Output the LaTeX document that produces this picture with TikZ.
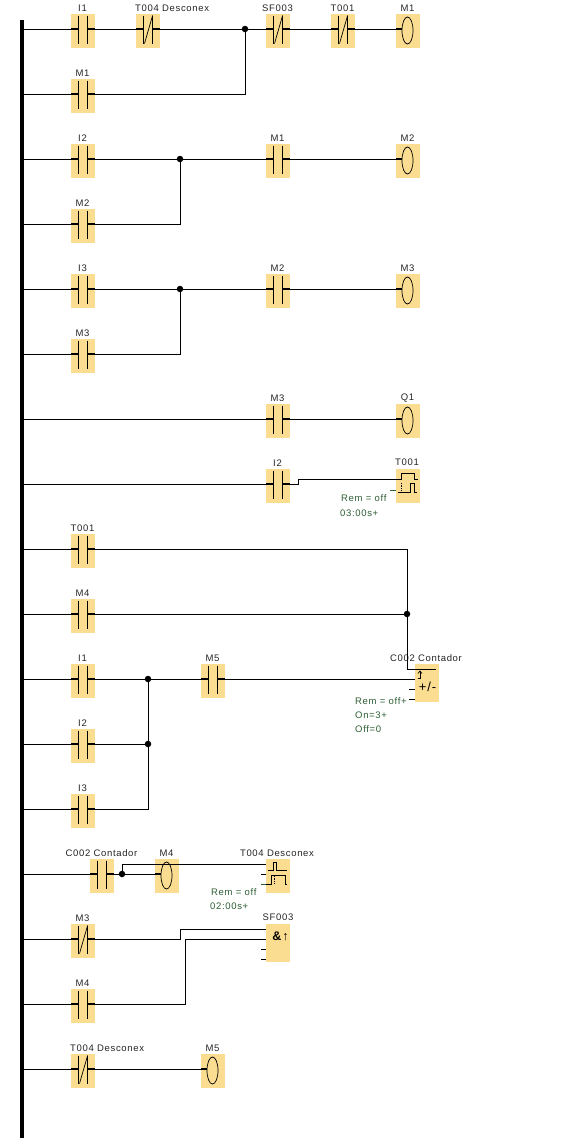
\documentclass[tikz,border=0pt]{standalone}
\usepackage{fontspec}
\setmainfont[LetterSpace=7]{Liberation Sans}
\definecolor{blockfill}{HTML}{FADD90}
\definecolor{param}{HTML}{2F5F35}
\tikzset{
  wire/.style={draw=black,line width=0.9pt},
  stub/.style={draw=black,line width=1.4pt},
  thin sym/.style={draw=black,line width=0.7pt},
  block/.style={fill=blockfill,draw=none,inner sep=0pt,minimum width=24pt,minimum height=34pt},
  tall block/.style={block,minimum height=38pt},
  tag/.style={inner sep=0pt,font=\fontsize{9.5}{11}\selectfont,text=black!85},
  param text/.style={inner sep=0pt,anchor=west,font=\fontsize{9.5}{11}\selectfont,text=param},
  dot/.style={circle,fill=black,inner sep=0pt,minimum size=6.5pt},
  nocontact/.pic={
    \draw[stub] (-12,0) -- (-4.6,0) (4.4,0) -- (12,0);
    \draw[thin sym] (-4.6,-13.5) -- (-4.6,14.5) (4.4,-13.5) -- (4.4,14.5);
  },
  nccontact/.pic={
    \draw[stub] (-12,0) -- (-4.6,0) (4.6,0) -- (12,0);
    \draw[thin sym] (-4.6,-13.5) -- (-4.6,14.5) (4.6,-13.5) -- (4.6,14.5);
    \draw[thin sym] (-3.5,14.5) -- (4.6,-13.5);
  },
  coilsym/.pic={
    \draw[stub] (-12,0) -- (-6,0);
    \draw[thin sym] (-0.5,1.5) ellipse (5.5 and 13.5);
  }
}
\newcommand\elem[5]{%
  \node[block] (#1) at (#2,#3+2) {};
  \coordinate (#1-in) at (#2-12,#3);
  \coordinate (#1-out) at (#2+12,#3);
  \pic at (#2,#3) {#4};
  \node[tag] (#1-tag) at (#2-0.5,#3-21) {#5};
}
\begin{document}
\begin{tikzpicture}[x=1pt,y=-1pt]
\useasboundingbox[fill=white] (0,0) rectangle (585,1138);
\node[fill=black,inner sep=0pt,minimum width=4pt,minimum height=1118pt] (rail) at (22,579) {};

% row 1-2
\elem{a1}{83}{29}{nocontact}{I1}
\elem{a2}{148}{29}{nccontact}{}
\node[tag,anchor=west] (a2-label) at (135,8) {T004 Desconex};
\elem{a3}{278}{29}{nccontact}{SF003}
\elem{a4}{343}{29}{nccontact}{T001}
\elem{a5}{408}{29}{coilsym}{M1}
\elem{a6}{83}{94}{nocontact}{M1}
\node[dot] (ja) at (245,29) {};
\draw[wire] (rail.east |- a1-in) -- (a1-in);
\draw[wire] (a1-out) -- (a2-in);
\draw[wire] (a2-out) -- (ja) -- (a3-in);
\draw[wire] (a3-out) -- (a4-in);
\draw[wire] (a4-out) -- (a5-in);
\draw[wire] (rail.east |- a6-in) -- (a6-in);
\draw[wire] (a6-out) -| (ja);

% row 3-4
\elem{b1}{83}{159}{nocontact}{I2}
\elem{b2}{278}{159}{nocontact}{M1}
\elem{b3}{408}{159}{coilsym}{M2}
\elem{b4}{83}{224}{nocontact}{M2}
\node[dot] (jb) at (180,159) {};
\draw[wire] (rail.east |- b1-in) -- (b1-in);
\draw[wire] (b1-out) -- (jb) -- (b2-in);
\draw[wire] (b2-out) -- (b3-in);
\draw[wire] (rail.east |- b4-in) -- (b4-in);
\draw[wire] (b4-out) -| (jb);

% row 5-6
\elem{c1}{83}{289}{nocontact}{I3}
\elem{c2}{278}{289}{nocontact}{M2}
\elem{c3}{408}{289}{coilsym}{M3}
\elem{c4}{83}{354}{nocontact}{M3}
\node[dot] (jc) at (180,289) {};
\draw[wire] (rail.east |- c1-in) -- (c1-in);
\draw[wire] (c1-out) -- (jc) -- (c2-in);
\draw[wire] (c2-out) -- (c3-in);
\draw[wire] (rail.east |- c4-in) -- (c4-in);
\draw[wire] (c4-out) -| (jc);

% row 7
\elem{d1}{278}{419}{nocontact}{M3}
\elem{d2}{408}{419}{coilsym}{Q1}
\draw[wire] (rail.east |- d1-in) -- (d1-in);
\draw[wire] (d1-out) -- (d2-in);

% row 8
\elem{e1}{278}{484}{nocontact}{I2}
\node[block] (e2) at (408,486) {};
\node[tag] (e2-label) at (407,462.5) {T001};
\coordinate (e2-in) at (396,479);
\coordinate (e-bend) at (298,484);
\draw[wire] (rail.east |- e1-in) -- (e1-in);
\draw[wire] (e1-out) -- (e-bend) -- (e-bend |- e2-in) -- (e2-in);
\draw[thin sym] (396,479) -- (401,479) -- (401,473) -- (414,473) -- (414,479) -- (418,479);
\draw[draw=param,line width=0.7pt] (390,490) -- (396,490);
\draw[thin sym] (398,492.5) -- (410,492.5) -- (410,483) -- (414,483) -- (414,492.5) -- (417,492.5);
\draw[thin sym,densely dotted] (401,483) -- (401,492.5);
\node[param text] (e-rem) at (341,498) {Rem = off};
\node[param text] (e-time) at (340,513) {03:00s+};

% row 9-13
\elem{f1}{83}{549}{nocontact}{T001}
\elem{f2}{83}{614}{nocontact}{M4}
\elem{f3}{83}{679}{nocontact}{I1}
\elem{f4}{213}{679}{nocontact}{M5}
\elem{f5}{83}{744}{nocontact}{I2}
\elem{f6}{83}{809}{nocontact}{I3}
\node[tall block] (cnt) at (427,682.5) {};
\node[tag] (cnt-label) at (426,658) {C002 Contador};
\node[dot] (jf) at (407,614) {};
\node[dot] (jg) at (148,679) {};
\node[dot] (jh) at (148,744) {};
\coordinate (cnt-top) at (436,669);
\draw[wire] (rail.east |- f1-in) -- (f1-in);
\draw[wire] (f1-out) -| (jf);
\draw[wire] (rail.east |- f2-in) -- (f2-in);
\draw[wire] (f2-out) -- (jf);
\draw[wire] (jf) |- (cnt-top);
\draw[wire] (rail.east |- f3-in) -- (f3-in);
\draw[wire] (f3-out) -- (jg) -- (f4-in);
\draw[wire] (f4-out) -- (cnt.west |- f4-out);
\draw[wire] (rail.east |- f5-in) -- (f5-in);
\draw[wire] (f5-out) -- (jh);
\draw[wire] (rail.east |- f6-in) -- (f6-in);
\draw[wire] (f6-out) -| (jh) -- (jg);
\draw[thin sym] (417.5,678) -- (420,678) -- (420,671);
\draw[thin sym] (418,673.5) -- (420,671) -- (422,673.5);
\node[inner sep=0pt,font=\fontsize{13}{14}\selectfont] (cnt-sym) at (427.5,687) {+/-};
\draw[thin sym] (409,689) -- (415,689) (409,699) -- (415,699);
\node[param text] (f-rem) at (355,701) {Rem = off+};
\node[param text] (f-on) at (355,715) {On=3+};
\node[param text] (f-off) at (355,729) {Off=0};

% row 14
\elem{g1}{102}{874}{nocontact}{C002 Contador}
\elem{g2}{167}{874}{coilsym}{M4}
\node[block] (g3) at (278,876) {};
\node[tag] (g3-label) at (277,853) {T004 Desconex};
\node[dot] (ji) at (122,874) {};
\draw[wire] (rail.east |- g1-in) -- (g1-in);
\draw[wire] (g1-out) -- (ji) -- (g2-in);
\coordinate (g3-in) at (266,864);
\draw[wire] (ji) |- (g3-in);
\draw[thin sym] (268,870.5) -- (273,870.5) -- (273,862.5) -- (276.5,862.5) -- (276.5,870.5) -- (287,870.5);
\draw[thin sym] (261,874) -- (266,874);
\draw[draw=param,line width=0.7pt] (261,884) -- (266,884);
\draw[thin sym] (266,884) -- (271,884) -- (271,875) -- (285,875) -- (285,884) -- (287,884);
\draw[thin sym,densely dotted] (274,876) -- (274,884);
\node[param text] (g-rem) at (211,892) {Rem = off};
\node[param text] (g-time) at (210,906) {02:00s+};

% row 15-16
\elem{h1}{83}{939}{nccontact}{M3}
\elem{h2}{83}{1004}{nocontact}{M4}
\node[tall block] (sf) at (278,943) {};
\node[tag] (sf-label) at (278,917.5) {SF003};
\coordinate (sf-a) at (266,929);
\coordinate (sf-b) at (266,939);
\coordinate (h1-bend) at (180.5,939);
\coordinate (h2-bend) at (185.5,1004);
\draw[wire] (rail.east |- h1-in) -- (h1-in);
\draw[wire] (h1-out) -- (h1-bend) |- (sf-a);
\draw[wire] (rail.east |- h2-in) -- (h2-in);
\draw[wire] (h2-out) -- (h2-bend) |- (sf-b);
\node[inner sep=0pt,font=\fontsize{12.5}{13}\selectfont\bfseries] (sf-sym) at (280.5,936) {\&↑};
\draw[thin sym] (261,949) -- (266,949) (261,959) -- (266,959);

% row 17
\elem{k1}{83}{1069}{nccontact}{}
\node[tag,anchor=west] (k1-label) at (70,1048) {T004 Desconex};
\elem{k2}{213}{1069}{coilsym}{M5}
\draw[wire] (rail.east |- k1-in) -- (k1-in);
\draw[wire] (k1-out) -- (k2-in);
\end{tikzpicture}
\end{document}
